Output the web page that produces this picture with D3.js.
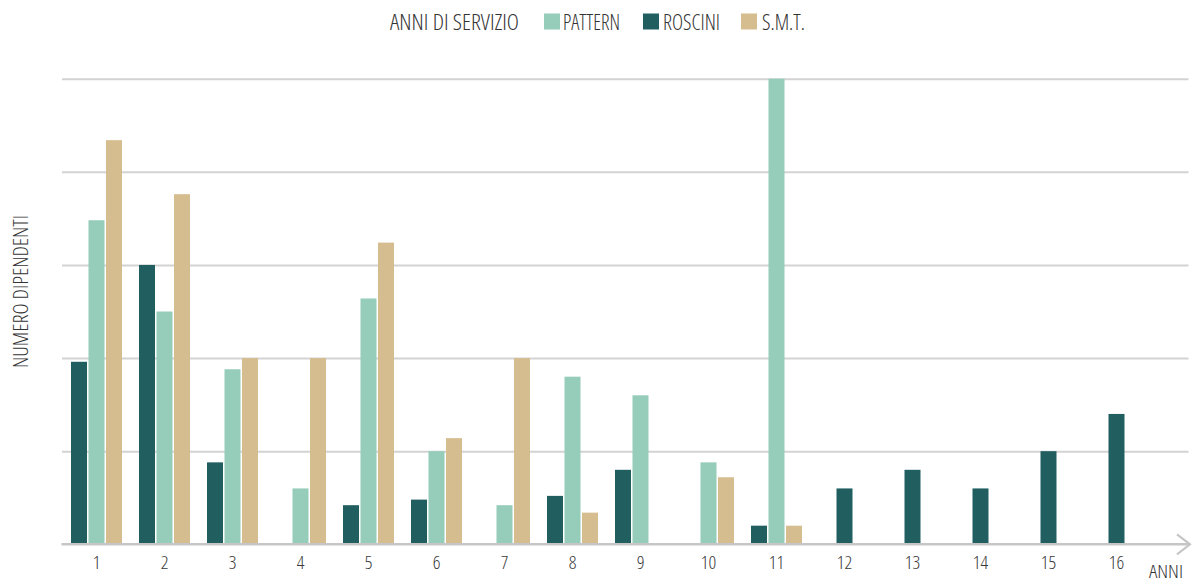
<!DOCTYPE html>
<html>
<head>
<meta charset="utf-8">
<script src="https://cdn.jsdelivr.net/npm/d3@7"></script>
<style>
  html, body { margin: 0; padding: 0; background: #fff; }
  svg { display: block; }
  text { font-family: "Open Sans", "Liberation Sans Narrow", sans-serif; font-weight: 300; font-stretch: condensed; fill: #333; }
</style>
</head>
<body>
<svg id="chart" width="1192" height="583"></svg>
<script>
// ---- data ----
const categories = ["1","2","3","4","5","6","7","8","9","10","11","12","13","14","15","16"];
const seriesNames = ["ROSCINI", "PATTERN", "S.M.T."];
const roscini = [9.8, 15, 4.4, 0, 2.1, 2.4, 0, 2.6, 4, 0, 1, 3, 4, 3, 5, 7];
const pattern = [17.4, 12.5, 9.4, 3, 13.2, 5, 2.1, 9, 8, 4.4, 25, 0, 0, 0, 0, 0];
const smt     = [21.7, 18.8, 10, 10, 16.2, 5.7, 10, 1.7, 0, 3.6, 1, 0, 0, 0, 0, 0];
const yTicks  = [0, 5, 10, 15, 20, 25];
const legendOrder = ["PATTERN", "ROSCINI", "S.M.T."];
const colors = { "ROSCINI": "#215e60", "PATTERN": "#95cdba", "S.M.T.": "#d6bd90" };

const values = { "ROSCINI": roscini, "PATTERN": pattern, "S.M.T.": smt };

const svg = d3.select("#chart");

const mLeft = 62.5, mRight = 1150.5, mTop = 78.7, mBottom = 544.3;

const x = d3.scaleBand().domain(categories).range([mLeft, mRight]).paddingInner(0.25).paddingOuter(0.125);
const xs = d3.scaleBand().domain(seriesNames).range([0, x.bandwidth()]).paddingInner(0.0857).paddingOuter(0);
const y = d3.scaleLinear().domain([0, 25]).range([mBottom, mTop]);

// gridlines
const grid = svg.append("g").attr("transform", `translate(${mLeft - 0.5},0)`)
  .call(d3.axisLeft(y).tickValues(yTicks.slice(1)).tickSize(-(1189 - mLeft)).tickFormat(""));
grid.select(".domain").remove();
grid.selectAll(".tick line").attr("stroke", "#d3d3d3").attr("stroke-width", 2);

// bars
const groups = svg.append("g").selectAll("g").data(categories).join("g")
  .attr("transform", d => `translate(${x(d)},0)`);
groups.selectAll("rect")
  .data((c, i) => {
    const present = seriesNames.map(s => ({ s, v: values[s][i] })).filter(d => d.v > 0);
    const single = present.length === 1;
    return present.map(d => ({ ...d, single }));
  })
  .join("rect")
  .attr("x", d => d.single ? (x.bandwidth() - xs.bandwidth()) / 2 : xs(d.s))
  .attr("width", xs.bandwidth())
  .attr("y", d => y(d.v))
  .attr("height", d => y(0) - y(d.v))
  .attr("fill", d => colors[d.s]);

// baseline with arrow
svg.append("line").attr("x1", mLeft - 1).attr("x2", 1190).attr("y1", y(0)).attr("y2", y(0))
  .attr("stroke", "#c6c6c6").attr("stroke-width", 2.5);
svg.append("path").attr("d", `M1177,${y(0) - 10} L1190,${y(0)} L1177,${y(0) + 10}`)
  .attr("fill", "none").attr("stroke", "#c6c6c6").attr("stroke-width", 2.2);

// x axis labels
const xAxis = svg.append("g").attr("transform", `translate(0,${y(0)})`)
  .call(d3.axisBottom(x).tickSize(0).tickPadding(11));
xAxis.select(".domain").remove();
xAxis.selectAll("text").style("font-size", "19px").style("font-family", "'Open Sans', sans-serif")
  .style("font-weight", 300).style("fill", "#3a3a3a");

// axis titles
svg.append("text").attr("x", 1149).attr("y", 578).style("font-size", "19px")
  .attr("textLength", 34).attr("lengthAdjust", "spacingAndGlyphs").text("ANNI");
svg.append("text").attr("transform", "translate(28,368) rotate(-90)").style("font-size", "20px")
  .attr("textLength", 153).attr("lengthAdjust", "spacingAndGlyphs").text("NUMERO DIPENDENTI");

// legend
svg.append("text").attr("x", 390).attr("y", 29.5).style("font-size", "22px")
  .attr("textLength", 129).attr("lengthAdjust", "spacingAndGlyphs").text("ANNI DI SERVIZIO");
const legendPos = { "PATTERN": [544, 563, 57], "ROSCINI": [643, 663, 57], "S.M.T.": [741, 762, 43] };
legendOrder.forEach(s => {
  const [sx, tx, tw] = legendPos[s];
  svg.append("rect").attr("x", sx).attr("y", 13.5).attr("width", 16).attr("height", 16).attr("fill", colors[s]);
  svg.append("text").attr("x", tx).attr("y", 29.5).style("font-size", "22px")
    .attr("textLength", tw).attr("lengthAdjust", "spacingAndGlyphs").text(s);
});
</script>
</body>
</html>
